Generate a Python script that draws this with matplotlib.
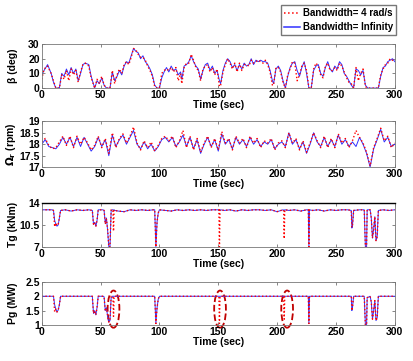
## Pitch / rotor speed / torque / power responses for two bandwidths
import matplotlib.pyplot as plt
from matplotlib.patches import Ellipse

# --- beta (deg) ---
t_beta = [0, 2, 5, 8, 10, 12, 15, 17, 19, 21, 23, 25, 27, 29, 31, 33, 35, 37, 40, 42,
          45, 47, 49, 51, 53, 55, 58, 60, 62, 64, 66, 68, 70, 72, 74, 76, 78, 80, 82, 84,
          86, 88, 90, 92, 94, 96, 98, 100, 102, 104, 106, 108, 110, 112, 114, 116, 118, 119, 121, 123,
          125, 127, 129, 131, 133, 135, 137, 139, 141, 143, 145, 147, 149, 151, 152, 154, 156, 158, 160, 162,
          164, 166, 168, 170, 172, 174, 176, 178, 180, 182, 184, 186, 188, 190, 192, 194, 196, 197, 199, 201,
          203, 205, 207, 209, 211, 213, 215, 217, 219, 221, 223, 225, 227, 229, 231, 233, 235, 237, 239, 241,
          243, 245, 247, 249, 251, 253, 255, 257, 259, 261, 263, 265, 267, 269, 271, 273, 275, 277, 280, 283,
          286, 288, 290, 292, 294, 296, 298, 300]
beta_blue = [9, 12, 16, 10, 4, 0, 0, 10, 8, 13, 9, 14, 10, 13, 5, 10, 16, 17, 16, 8,
             0, 5, 3, 7, 2, 0, 0, 11, 5, 8, 12, 9, 15, 18, 17, 22, 27, 25, 24, 20,
             22, 18, 16, 13, 9, 2, 0, 0, 7, 11, 14, 11, 15, 12, 13, 9, 11, 6, 15, 16,
             18, 22, 18, 15, 13, 6, 12, 16, 17, 12, 15, 10, 12, 5, 3, 12, 17, 20, 18, 14,
             16, 12, 16, 13, 17, 15, 16, 20, 16, 19, 18, 19, 18, 18, 17, 12, 5, 3, 13, 15,
             12, 5, 0, 8, 14, 17, 18, 12, 8, 14, 18, 10, 0, 0, 12, 15, 16, 10, 8, 14,
             18, 13, 11, 15, 13, 18, 16, 10, 8, 5, 2, 0, 13, 12, 9, 12, 2, 0, 0, 0,
             0, 8, 14, 15, 18, 19, 20, 18]
beta_red = [6, 13, 15, 10, 5, 0, 0, 9, 6, 12, 5, 13, 9, 12, 4, 11, 16, 17, 15, 7,
            0, 6, 3, 8, 2, 0, 0, 12, 3, 9, 13, 10, 16, 18, 16, 21, 27, 26, 23, 21,
            21, 19, 15, 12, 8, 1, 0, 0, 10, 12, 13, 12, 14, 11, 14, 5, 10, 3, 14, 17,
            17, 23, 19, 14, 12, 5, 13, 15, 16, 11, 14, 9, 13, 1, 2, 11, 16, 20, 17, 13,
            17, 11, 17, 12, 16, 16, 15, 19, 17, 18, 19, 18, 17, 19, 16, 11, 2, 2, 14, 14,
            11, 4, 0, 9, 13, 18, 17, 5, 9, 15, 17, 12, 0, 0, 13, 17, 15, 9, 7, 15,
            17, 12, 12, 14, 12, 17, 15, 11, 7, 4, 3, 0, 14, 5, 10, 13, 1, 0, 0, 0,
            0, 9, 13, 16, 17, 20, 19, 18]

# --- rotor speed (rpm) ---
t_om = list(range(0, 301, 3))
om_blue = [18.0, 18.2, 17.9, 17.85, 17.8, 18.0, 18.3, 18.0, 18.3, 17.9,
           18.3, 17.9, 18.3, 18.0, 17.7, 17.9, 18.3, 17.9, 18.2, 17.5,
           18.4, 17.9, 18.2, 18.4, 18.0, 18.3, 18.6, 18.0, 17.8, 18.1,
           17.8, 18.0, 17.7, 17.9, 18.2, 18.3, 18.1, 18.3, 17.9, 18.1,
           18.4, 17.9, 18.3, 17.8, 18.2, 17.6, 18.0, 18.3, 17.9, 18.2,
           17.7, 18.45, 18.0, 18.2, 17.8, 18.3, 18.0, 18.2, 17.9, 18.3,
           18.0, 18.2, 17.9, 18.1, 18.0, 18.2, 17.8, 18.0, 18.1, 17.9,
           18.5, 18.0, 18.2, 17.8, 18.1, 17.6, 18.0, 18.5, 18.1, 17.9,
           18.3, 17.9, 18.2, 17.9, 18.4, 18.0, 18.2, 17.9, 18.1, 17.9,
           18.3, 18.0, 17.6, 17.0, 17.8, 18.2, 18.65, 18.1, 18.3, 17.9,
           18.0]
om_red = [18.1, 18.25, 17.95, 17.8, 17.85, 18.1, 18.35, 17.95, 18.35, 17.85,
          18.35, 18.0, 18.3, 18.05, 17.75, 17.95, 18.35, 17.85, 18.25, 17.6,
          18.5, 17.85, 18.25, 18.45, 18.05, 18.35, 18.75, 18.05, 17.75, 18.15,
          17.85, 18.1, 17.7, 17.95, 18.25, 18.35, 18.15, 18.35, 17.85, 18.15,
          18.6, 17.85, 18.35, 17.75, 18.25, 17.65, 18.05, 18.35, 17.85, 18.25,
          17.75, 18.55, 18.05, 18.25, 17.75, 18.35, 18.05, 18.25, 17.85, 18.35,
          18.05, 18.25, 17.85, 18.15, 18.05, 18.25, 17.75, 18.05, 18.15, 17.85,
          18.5, 18.05, 18.25, 17.75, 18.15, 17.65, 18.05, 18.5, 18.15, 17.85,
          18.35, 17.85, 18.25, 17.85, 18.45, 18.05, 18.25, 17.85, 18.15, 18.6,
          18.3, 18.05, 17.65, 17.05, 17.85, 18.25, 18.7, 18.15, 18.35, 17.85,
          18.05]

# --- generator torque (kNm) and power (MW) ---
t_gen = [0, 5, 9, 10, 11, 12, 13, 14, 15, 16,
         20, 25, 30, 35, 40, 43, 44, 45, 46, 47,
         48, 52, 53, 54, 55, 56, 57, 58, 59, 60,
         60.5, 61, 61.5, 62, 65, 70, 75, 80, 85, 90,
         95, 96, 97, 98, 99, 100, 105, 110, 115, 120,
         125, 130, 135, 140, 145, 150, 150.5, 151, 151.5, 152,
         155, 160, 165, 170, 175, 180, 185, 190, 195, 200,
         205, 205.5, 206, 206.5, 207, 210, 215, 220, 225, 226.5,
         227, 227.5, 230, 235, 240, 245, 250, 255, 260, 263,
         263.5, 264, 265, 270, 274, 275, 276, 276.5, 279, 280,
         281, 282, 283, 284, 285, 286, 290, 295, 300]
tg_blue = [12.9, 12.9, 12.9, 12.8, 11.2, 10.6, 10.3, 10.5, 11.6, 12.8,
           12.9, 12.7, 12.9, 12.8, 12.9, 12.8, 10.6, 10.9, 10.3, 11.2,
           12.9, 12.9, 12.8, 10.8, 11.6, 9.6, 7.0, 7.0, 12.8, 12.9,
           12.9, 12.8, 12.9, 12.8, 12.7, 12.6, 12.9, 12.8, 12.9, 12.8,
           12.9, 12.9, 7.0, 11.0, 12.4, 12.9, 12.8, 12.7, 12.9, 12.8,
           12.9, 12.8, 12.9, 12.8, 12.9, 12.9, 12.8, 12.9, 12.8, 12.9,
           12.8, 12.9, 12.7, 12.9, 12.8, 12.9, 12.9, 12.8, 12.9, 12.6,
           12.9, 12.8, 12.9, 12.8, 12.9, 12.8, 12.9, 12.7, 12.9, 12.9,
           7.0, 12.9, 12.8, 12.9, 12.7, 12.9, 12.8, 12.9, 12.9, 12.8,
           10.0, 10.3, 12.8, 12.9, 12.9, 7.0, 7.0, 12.9, 12.9, 11.6,
           8.4, 9.8, 11.8, 8.0, 8.6, 12.8, 12.9, 12.8, 12.9]
tg_red = [12.9, 12.9, 12.9, 12.8, 10.2, 10.8, 10.4, 10.6, 11.6, 12.8,
          12.9, 12.7, 12.9, 12.8, 12.9, 12.8, 10.6, 10.9, 10.3, 11.2,
          12.9, 12.9, 12.8, 10.6, 11.4, 9.8, 7.0, 7.0, 12.9, 12.9,
          12.9, 9.5, 12.9, 12.8, 12.7, 12.6, 12.9, 12.8, 12.9, 12.8,
          12.9, 12.9, 7.0, 11.0, 12.4, 12.9, 12.8, 12.7, 12.9, 12.8,
          12.9, 12.8, 12.9, 12.8, 12.9, 12.9, 12.9, 7.0, 12.9, 12.9,
          12.8, 12.9, 12.7, 12.9, 12.8, 12.9, 12.9, 12.8, 12.9, 12.6,
          12.9, 12.9, 8.3, 12.9, 12.9, 12.8, 12.9, 12.7, 12.9, 12.9,
          7.0, 12.9, 12.8, 12.9, 12.7, 12.9, 12.8, 12.9, 12.9, 12.8,
          10.1, 10.4, 12.8, 12.9, 12.9, 7.0, 7.0, 12.9, 12.9, 11.6,
          8.4, 9.8, 11.8, 8.0, 8.6, 12.8, 12.9, 12.8, 12.9]
pg_blue = [2.0, 2.0, 2.0, 2.0, 1.7, 1.55, 1.45, 1.52, 1.7, 2.0,
           2.0, 2.0, 2.0, 2.0, 2.0, 2.0, 1.4, 1.5, 1.35, 1.6,
           2.0, 2.0, 1.98, 1.5, 1.6, 1.3, 1.1, 1.15, 1.95, 2.0,
           2.0, 2.0, 2.0, 2.0, 2.0, 2.0, 2.0, 2.0, 2.0, 2.0,
           2.0, 2.0, 1.05, 1.6, 1.9, 2.0, 2.0, 2.0, 2.0, 2.0,
           2.0, 2.0, 2.0, 2.0, 2.0, 2.0, 2.0, 2.0, 2.0, 2.0,
           2.0, 2.0, 2.0, 2.0, 2.0, 2.0, 2.0, 2.0, 2.0, 2.0,
           2.0, 2.0, 2.0, 2.0, 2.0, 2.0, 2.0, 2.0, 2.0, 2.0,
           1.05, 2.0, 2.0, 2.0, 2.0, 2.0, 2.0, 2.0, 2.0, 2.0,
           1.5, 1.6, 2.0, 2.0, 2.0, 1.0, 1.0, 1.95, 2.0, 1.8,
           1.2, 1.5, 1.85, 1.15, 1.25, 2.0, 2.0, 2.0, 2.0]
pg_red = [2.0, 2.0, 2.0, 2.0, 1.45, 1.55, 1.45, 1.52, 1.7, 2.0,
          2.0, 2.0, 2.0, 2.0, 2.0, 2.0, 1.4, 1.5, 1.35, 1.6,
          2.0, 2.0, 1.98, 1.48, 1.58, 1.32, 1.1, 1.15, 2.0, 2.0,
          2.0, 1.3, 2.0, 2.0, 2.0, 2.0, 2.0, 2.0, 2.0, 2.0,
          2.0, 2.0, 1.05, 1.6, 1.9, 2.0, 2.0, 2.0, 2.0, 2.0,
          2.0, 2.0, 2.0, 2.0, 2.0, 2.0, 2.0, 1.05, 2.0, 2.0,
          2.0, 2.0, 2.0, 2.0, 2.0, 2.0, 2.0, 2.0, 2.0, 2.0,
          2.0, 2.0, 1.2, 2.0, 2.0, 2.0, 2.0, 2.0, 2.0, 2.0,
          1.05, 2.0, 2.0, 2.0, 2.0, 2.0, 2.0, 2.0, 2.0, 2.0,
          1.5, 1.6, 2.0, 2.0, 2.0, 1.0, 1.0, 1.95, 2.0, 1.8,
          1.2, 1.5, 1.85, 1.15, 1.25, 2.0, 2.0, 2.0, 2.0]

# circled events on the power plot (time, centre)
circle_t = [61, 151.5, 208.5]
circle_y = [1.55, 1.55, 1.55]

labels = ['Bandwidth= 4 rad/s', 'Bandwidth= Infinity']

plt.rcParams['font.family'] = ['Liberation Sans', 'DejaVu Sans']
plt.rcParams['font.weight'] = 'bold'
plt.rcParams['font.size'] = 7
plt.rcParams['mathtext.default'] = 'bf'

fig = plt.figure(figsize=(4.13, 3.61), dpi=100)
left, width = 0.101, 0.855
boxes = [(0.756, 0.122), (0.537, 0.127), (0.316, 0.122), (0.100, 0.119)]

panels = [
    (t_beta, beta_red, beta_blue, (0, 30), [0, 10, 20, 30], ['0', '10', '20', '30'], 'β (deg)'),
    (t_om, om_red, om_blue, (17, 19), [17, 17.5, 18, 18.5, 19], ['17', '17.5', '18', '18.5', '19'], r'$\Omega_r$ (rpm)'),
    (t_gen, tg_red, tg_blue, (7, 14), [7, 10.5, 14], ['7', '10.5', '14'], 'Tg (kNm)'),
    (t_gen, pg_red, pg_blue, (1, 2.5), [1, 1.5, 2, 2.5], ['1', '1.5', '2', '2.5'], 'Pg (MW)'),
]

axes = []
for (b, h), (t, red, blue, ylim, yt, ytl, ylab) in zip(boxes, panels):
    ax = fig.add_axes([left, b, width, h])
    ax.plot(t, blue, color='#3030ff', lw=0.7, label=labels[1])
    ax.plot(t, red, color='red', ls=':', lw=1.0, label=labels[0])
    ax.set_xlim(0, 300)
    ax.set_ylim(*ylim)
    ax.set_xticks([0, 50, 100, 150, 200, 250, 300])
    ax.set_yticks(yt)
    ax.set_yticklabels(ytl)
    ax.tick_params(direction='in', top=True, right=True, length=2.5, width=0.5, pad=1.5,
                   labelsize=7.5, color='#555555')
    for s in ax.spines.values():
        s.set_color('#777777')
        s.set_linewidth(0.6)
    ax.set_xlabel('Time (sec)', fontsize=7.5, fontweight='bold', labelpad=0)
    ax.set_ylabel(ylab, fontsize=7.5, fontweight='bold')
    ax.yaxis.set_label_coords(-0.068, 0.5)
    axes.append(ax)

axes[2].spines['top'].set_color('black')
axes[2].spines['top'].set_linewidth(1.0)

for ct, cy in zip(circle_t, circle_y):
    axes[3].add_patch(Ellipse((ct, cy), 10, 1.3, fill=False, ec='#c00000', ls='--',
                              lw=1.3, clip_on=False))

h1, l1 = axes[0].get_legend_handles_labels()
leg = fig.legend([h1[1], h1[0]], [l1[1], l1[0]], loc='upper right',
                 bbox_to_anchor=(0.958, 0.985), frameon=True, fancybox=False,
                 edgecolor='#555555', fontsize=7, handlelength=1.6, handletextpad=0.3,
                 borderpad=0.3, labelspacing=0.4, borderaxespad=0)
for line in leg.get_lines():
    line.set_linewidth(1.1)

fig.savefig('out.png', dpi=100)
